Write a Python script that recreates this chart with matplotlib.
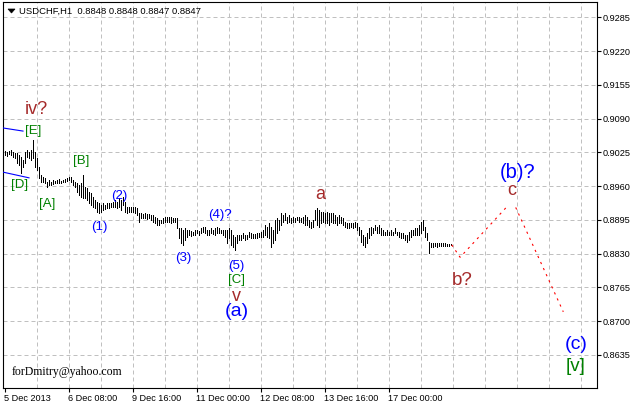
import matplotlib
matplotlib.use('Agg')
import matplotlib.pyplot as plt
from matplotlib.patches import Polygon

# USDCHF H1 bars (one bar per hour from 5 Dec 2013 00:00)
highs = [
    0.9028, 0.9026, 0.9028, 0.9030, 0.9026, 0.9024, 0.9024, 0.9020, 0.9016, 0.9010,
    0.9026, 0.9030, 0.9026, 0.9030, 0.9049, 0.9026, 0.9014, 0.8997, 0.8981, 0.8978,
    0.8976, 0.8968, 0.8972, 0.8968, 0.8972, 0.8970, 0.8972, 0.8974, 0.8970, 0.8972,
    0.8974, 0.8976, 0.8978, 0.8978, 0.8972, 0.8968, 0.8966, 0.8962, 0.8966, 0.8981,
    0.8958, 0.8956, 0.8949, 0.8947, 0.8939, 0.8933, 0.8929, 0.8928, 0.8924, 0.8928,
    0.8924, 0.8928, 0.8928, 0.8928, 0.8929, 0.8933, 0.8929, 0.8937, 0.8933, 0.8939,
    0.8929, 0.8920, 0.8920, 0.8920, 0.8920, 0.8920, 0.8918, 0.8908, 0.8908, 0.8906,
    0.8908, 0.8906, 0.8906, 0.8904, 0.8904, 0.8901, 0.8899, 0.8895, 0.8895, 0.8899,
    0.8901, 0.8901, 0.8901, 0.8901, 0.8899, 0.8899, 0.8899, 0.8879, 0.8879, 0.8876,
    0.8879, 0.8876, 0.8876, 0.8874, 0.8872, 0.8876, 0.8876, 0.8874, 0.8879, 0.8881,
    0.8881, 0.8876, 0.8876, 0.8879, 0.8876, 0.8879, 0.8881, 0.8879, 0.8876, 0.8876,
    0.8876, 0.8876, 0.8879, 0.8876, 0.8866, 0.8862, 0.8866, 0.8866, 0.8866, 0.8870,
    0.8866, 0.8866, 0.8872, 0.8870, 0.8868, 0.8868, 0.8870, 0.8870, 0.8872, 0.8876,
    0.8885, 0.8881, 0.8889, 0.8881, 0.8876, 0.8895, 0.8899, 0.8895, 0.8908, 0.8904,
    0.8908, 0.8901, 0.8904, 0.8899, 0.8901, 0.8899, 0.8901, 0.8901, 0.8899, 0.8901,
    0.8904, 0.8901, 0.8895, 0.8891, 0.8895, 0.8914, 0.8918, 0.8914, 0.8910, 0.8910,
    0.8908, 0.8910, 0.8908, 0.8908, 0.8908, 0.8904, 0.8901, 0.8904, 0.8901, 0.8899,
    0.8891, 0.8889, 0.8889, 0.8889, 0.8889, 0.8891, 0.8889, 0.8881, 0.8876, 0.8866,
    0.8862, 0.8870, 0.8879, 0.8881, 0.8879, 0.8885, 0.8881, 0.8885, 0.8879, 0.8876,
    0.8872, 0.8876, 0.8872, 0.8876, 0.8872, 0.8879, 0.8872, 0.8872, 0.8870, 0.8870,
    0.8866, 0.8866, 0.8872, 0.8876, 0.8876, 0.8879, 0.8879, 0.8885, 0.8891, 0.8895,
    0.8881, 0.8870, 0.8852, 0.8851, 0.8851, 0.8851, 0.8851, 0.8851, 0.8851, 0.8851,
    0.8851, 0.8849, 0.8849, 0.8848,
]

lows = [
    0.9020, 0.9018, 0.9022, 0.9020, 0.9016, 0.9014, 0.9005, 0.9001, 0.8985, 0.8997,
    0.9005, 0.9016, 0.9014, 0.9010, 0.9014, 0.8997, 0.8991, 0.8976, 0.8968, 0.8968,
    0.8966, 0.8958, 0.8962, 0.8962, 0.8964, 0.8966, 0.8966, 0.8966, 0.8966, 0.8968,
    0.8968, 0.8970, 0.8972, 0.8968, 0.8962, 0.8958, 0.8949, 0.8943, 0.8939, 0.8937,
    0.8937, 0.8933, 0.8928, 0.8924, 0.8920, 0.8918, 0.8910, 0.8908, 0.8910, 0.8914,
    0.8916, 0.8918, 0.8918, 0.8920, 0.8920, 0.8920, 0.8918, 0.8920, 0.8914, 0.8924,
    0.8910, 0.8908, 0.8910, 0.8910, 0.8910, 0.8908, 0.8904, 0.8891, 0.8899, 0.8899,
    0.8899, 0.8897, 0.8899, 0.8895, 0.8891, 0.8889, 0.8885, 0.8885, 0.8889, 0.8889,
    0.8891, 0.8891, 0.8891, 0.8889, 0.8891, 0.8891, 0.8879, 0.8860, 0.8851, 0.8847,
    0.8856, 0.8862, 0.8866, 0.8864, 0.8866, 0.8866, 0.8870, 0.8866, 0.8870, 0.8872,
    0.8870, 0.8866, 0.8866, 0.8870, 0.8868, 0.8866, 0.8870, 0.8870, 0.8870, 0.8866,
    0.8862, 0.8851, 0.8860, 0.8847, 0.8843, 0.8837, 0.8851, 0.8856, 0.8856, 0.8860,
    0.8856, 0.8858, 0.8862, 0.8860, 0.8860, 0.8860, 0.8860, 0.8862, 0.8862, 0.8862,
    0.8866, 0.8862, 0.8860, 0.8843, 0.8851, 0.8856, 0.8870, 0.8876, 0.8885, 0.8891,
    0.8895, 0.8889, 0.8891, 0.8889, 0.8891, 0.8891, 0.8895, 0.8891, 0.8891, 0.8889,
    0.8885, 0.8885, 0.8881, 0.8879, 0.8881, 0.8895, 0.8885, 0.8881, 0.8889, 0.8891,
    0.8889, 0.8889, 0.8885, 0.8891, 0.8889, 0.8889, 0.8885, 0.8889, 0.8889, 0.8885,
    0.8881, 0.8879, 0.8879, 0.8881, 0.8879, 0.8881, 0.8876, 0.8866, 0.8852, 0.8847,
    0.8843, 0.8851, 0.8860, 0.8866, 0.8870, 0.8876, 0.8870, 0.8870, 0.8866, 0.8866,
    0.8866, 0.8866, 0.8866, 0.8866, 0.8866, 0.8870, 0.8866, 0.8862, 0.8860, 0.8860,
    0.8856, 0.8852, 0.8856, 0.8862, 0.8866, 0.8866, 0.8866, 0.8866, 0.8870, 0.8876,
    0.8862, 0.8856, 0.8831, 0.8843, 0.8843, 0.8845, 0.8843, 0.8845, 0.8845, 0.8845,
    0.8845, 0.8845, 0.8845, 0.8847,
]

time_ticks = [0, 32, 64, 96, 128, 160, 192]
time_labels = ['5 Dec 2013', '6 Dec 08:00', '9 Dec 16:00', '11 Dec 00:00',
               '12 Dec 08:00', '13 Dec 16:00', '17 Dec 00:00']
price_ticks = [0.8635, 0.8700, 0.8765, 0.8830, 0.8895, 0.8960,
               0.9025, 0.9090, 0.9155, 0.9220, 0.9285]

# projected path (red dotted): b? -> c, then c -> (c)
path1_x = [223.6, 227.8, 251.1]
path1_y = [0.8847, 0.8823, 0.8920]
path2_x = [255.6, 279.4]
path2_y = [0.8919, 0.8718]

# old trend lines on the left edge
line_e_x = [-0.75, 9.25]
line_e_y = [0.9072, 0.9066]
line_d_x = [-0.75, 12.25]
line_d_y = [0.8987, 0.8976]

BROWN = '#A52A2A'
GREEN = '#008000'
BLUE = '#0000FF'

# wave labels: text, bar, price, colour, size
wave_labels = [
    ('iv?', 16.1, 0.9108, BROWN, 13),
    ('[E]', 14.5, 0.9066, GREEN, 9.5),
    ('[D]', 7.5, 0.8962, GREEN, 9.5),
    ('[A]', 21.2, 0.8926, GREEN, 9.5),
    ('[B]', 38.2, 0.9008, GREEN, 9.5),
    ('(1)', 47.2, 0.8882, BLUE, 9.5),
    ('(2)', 57.5, 0.8941, BLUE, 9.5),
    ('(3)', 89.2, 0.8822, BLUE, 9.5),
    ('(4)?', 107.8, 0.8904, BLUE, 9.5),
    ('(5)', 116.0, 0.8806, BLUE, 9.5),
    ('[C]', 116.0, 0.8779, GREEN, 9.5),
    ('v', 116.0, 0.8748, BROWN, 13),
    ('(a)', 116.0, 0.8718, BLUE, 14),
    ('a', 157.8, 0.8944, BROWN, 13),
    ('b?', 228.8, 0.8778, BROWN, 13.5),
    ('c', 253.5, 0.8951, BROWN, 13),
    ('(b)?', 256.3, 0.8987, BLUE, 14.5),
    ('(c)', 286.0, 0.8656, BLUE, 14),
    ('[v]', 285.3, 0.8612, GREEN, 13.5),
]


def px(x, y):
    # pixel (from top-left) to figure fraction
    return x / 636.0, 1.0 - y / 407.0


def main():
    plt.rcParams['font.family'] = ['Liberation Sans', 'DejaVu Sans']

    fig = plt.figure(figsize=(6.36, 4.07), dpi=100)
    ax = fig.add_axes([3 / 636.0, 19 / 407.0, 594 / 636.0, 386 / 407.0])

    ax.set_xlim(-0.75, 296.25)
    ax.set_ylim(0.85714, 0.93145)

    # grid
    for b in range(16, 297, 16):
        ax.axvline(b, color='#C0C0C0', lw=0.72, ls=(0, (4, 3)), zorder=1)
    for p in price_ticks:
        ax.axhline(p, color='#C0C0C0', lw=0.72, ls=(0, (4, 3)), zorder=1)

    # bars, 1px wide like the terminal draws them
    xs = list(range(len(highs)))
    ax.vlines(xs, lows, highs, colors='black', lw=0.72, antialiased=False, zorder=3)

    ax.plot(line_e_x, line_e_y, color=BLUE, lw=0.8, zorder=3)
    ax.plot(line_d_x, line_d_y, color=BLUE, lw=0.8, zorder=3)

    ax.plot(path1_x, path1_y, color='#FF0000', lw=0.8, ls=(0, (2, 4)), zorder=3)
    ax.plot(path2_x, path2_y, color='#FF0000', lw=0.8, ls=(0, (2, 4)), zorder=3)

    for (txt, bx, py, col, size) in wave_labels:
        ax.text(bx, py, txt, color=col, fontsize=size, ha='center', va='center', zorder=4)

    # axes
    for s in ax.spines.values():
        s.set_linewidth(0.8)
        s.set_color('black')

    ax.yaxis.tick_right()
    ax.set_yticks(price_ticks)
    ax.set_yticklabels(['%.4f' % p for p in price_ticks])
    ax.tick_params(axis='y', direction='out', length=3, width=0.8, pad=1, labelsize=6.6)

    ax.set_xticks(time_ticks)
    ax.set_xticklabels(time_labels, ha='left')
    ax.tick_params(axis='x', direction='out', length=3, width=0.8, pad=1.5, labelsize=6.6)

    # header
    tri = Polygon([px(8, 9), px(15, 9), px(11.5, 13)], closed=True,
                  transform=fig.transFigure, facecolor='black', edgecolor='black', lw=0.5)
    fig.patches.append(tri)
    x0, y0 = px(19, 11)
    fig.text(x0, y0, 'USDCHF,H1  0.8848 0.8848 0.8847 0.8847', fontsize=6.8,
             ha='left', va='center')

    x0, y0 = px(12, 372)
    fig.text(x0, y0, 'forDmitry@yahoo.com', fontsize=8.5, family='Liberation Serif',
             ha='left', va='center')

    fig.savefig('out.png', dpi=100)


if __name__ == '__main__':
    main()
